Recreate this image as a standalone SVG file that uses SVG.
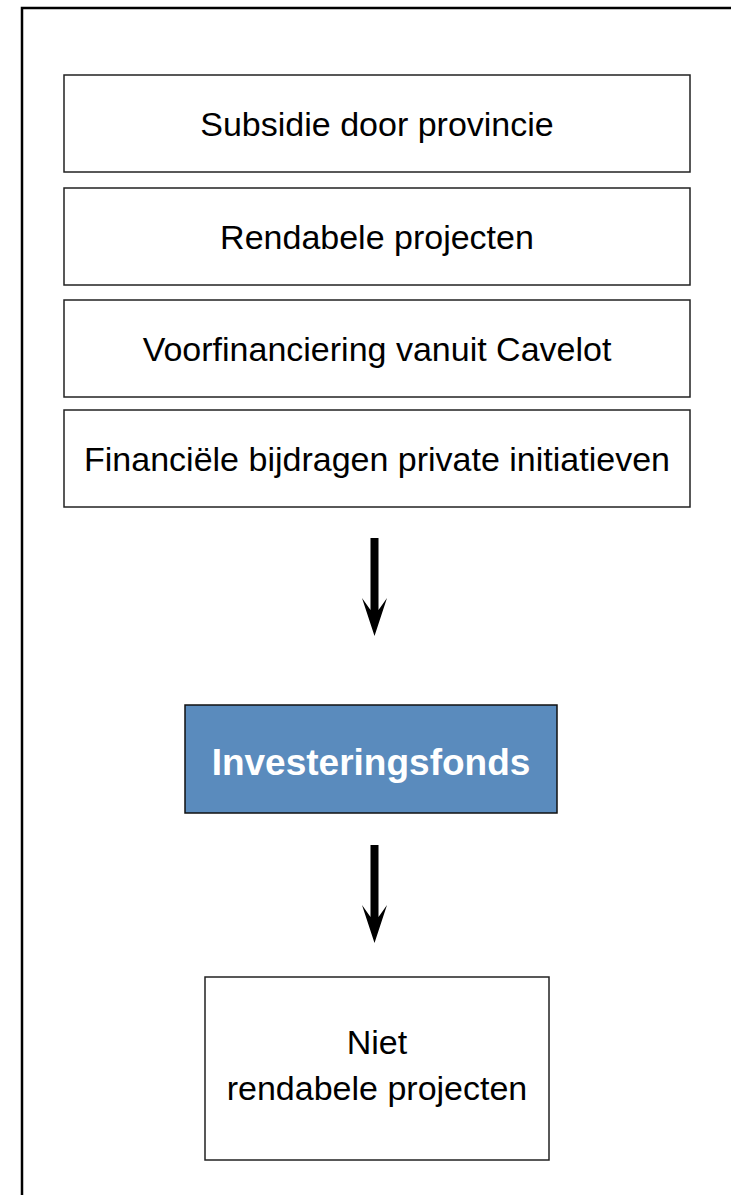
<svg xmlns="http://www.w3.org/2000/svg" width="731" height="1195" viewBox="0 0 731 1195">
<style>
.box{fill:#fff;stroke:#222;stroke-width:1.5}
.blue{fill:#5a8bbd;stroke:#111;stroke-width:1.5}
.t{font-family:"Liberation Sans",Arial,sans-serif;font-size:34px;fill:#000;text-anchor:middle}
.tb{font-family:"Liberation Sans",Arial,sans-serif;font-size:37px;font-weight:bold;fill:#fff;text-anchor:middle}
.arr{fill:#000}
</style>
<rect x="22" y="8" width="740" height="1220" fill="none" stroke="#000" stroke-width="2.5"/>
<g id="n1"><rect class="box" x="64" y="75" width="626" height="97"/><text class="t" x="377" y="136">Subsidie door provincie</text></g>
<g id="n2"><rect class="box" x="64" y="188" width="626" height="97"/><text class="t" x="377" y="249">Rendabele projecten</text></g>
<g id="n3"><rect class="box" x="64" y="300" width="626" height="97"/><text class="t" x="377" y="361">Voorfinanciering vanuit Cavelot</text></g>
<g id="n4"><rect class="box" x="64" y="410" width="626" height="97"/><text class="t" x="377" y="471">Financiële bijdragen private initiatieven</text></g>
<g id="n5"><rect class="blue" x="185" y="705" width="372" height="108"/><text class="tb" x="371" y="775">Investeringsfonds</text></g>
<g id="n6"><rect class="box" x="205" y="977" width="344" height="183"/><text class="t" x="377" y="1054">Niet</text><text class="t" x="377" y="1100">rendabele projecten</text></g>
<g id="connectors">
<path class="arr" d="M370.5,538 H378.5 V610 L387,598 L374.5,636 L362,598 L370.5,610 Z"/>
<path class="arr" d="M370.5,845 H378.5 V917 L387,905 L374.5,943 L362,905 L370.5,917 Z"/>
</g>
</svg>
